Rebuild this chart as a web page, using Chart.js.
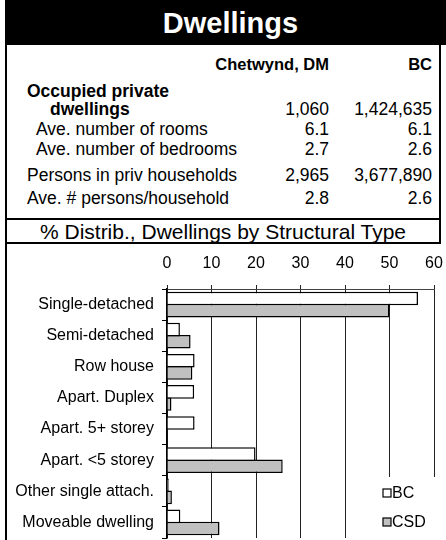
<!DOCTYPE html>
<html>
<head>
<meta charset="utf-8">
<script src="https://cdn.jsdelivr.net/npm/chart.js@4.4.1/dist/chart.umd.min.js"></script>
<style>
  html, body { margin: 0; padding: 0; background: #fff; }
  body { width: 446px; height: 540px; position: relative; overflow: hidden;
         font-family: "Liberation Sans", Arial, sans-serif; color: #000; }
  .abs { position: absolute; white-space: nowrap; line-height: 1; }
  #titleBar { position: absolute; left: 5px; top: 0; width: 441px; height: 45px; background: #000;
              color: #fff; font-weight: bold; font-size: 29px; text-align: center; line-height: 46px;
              padding-left: 10px; box-sizing: border-box; }
  .vline { position: absolute; top: 45px; width: 2px; background: #000; z-index: 2; }
  .hline { position: absolute; left: 5px; width: 436px; height: 2px; background: #000; }
  .t { font-size: 17.5px; }
  .h { font-size: 16.5px; }
  .b { font-weight: bold; }
  #section { position: absolute; left: 5px; width: 436px; top: 221px; text-align: center;
             font-size: 21px; line-height: 21px; }
  #chartBox { position: absolute; left: 7px; top: 244px; width: 439px; height: 296px; }
</style>
</head>
<body>
<div id="titleBar">Dwellings</div>
<div class="hline" style="top:218px"></div>
<div class="hline" style="top:242px"></div>

<div id="table"></div>
<div id="section">% Distrib., Dwellings by Structural Type</div>
<div id="chartBox"><canvas id="chart"></canvas></div>
<div class="vline" style="left:5px; bottom:0"></div>
<div class="vline" style="left:439px; height:199px"></div>

<script>
// --- table data ---
const colHeaders = ['Chetwynd, DM', 'BC'];
const rowLabels = ['Occupied private|dwellings', 'Ave. number of rooms', 'Ave. number of bedrooms',
                   'Persons in priv households', 'Ave. # persons/household'];
const localValues = ['1,060', '6.1', '2.7', '2,965', '2.8'];
const provValues = ['1,424,635', '6.1', '2.6', '3,677,890', '2.6'];

// --- chart data ---
const categories = ['Single-detached', 'Semi-detached', 'Row house', 'Apart. Duplex',
                    'Apart. 5+ storey', 'Apart. <5 storey', 'Other single attach.', 'Moveable dwelling'];
const bcValues = [56.4, 2.9, 6.2, 6.1, 6.2, 19.9, 0.4, 3.0];
const csdValues = [50.0, 5.3, 5.7, 1.0, 0.0, 26.0, 1.1, 11.8];
const xTicks = [0, 10, 20, 30, 40, 50, 60];

const FONT = 'Liberation Sans';

// build the html table (text stays real text)
const table = document.getElementById('table');
function put(text, x, y, cls, alignRight) {
    const d = document.createElement('div');
    d.className = 'abs ' + (cls || 't');
    d.textContent = text;
    if (alignRight) {
        d.style.right = (446 - x) + 'px';
    } else {
        d.style.left = x + 'px';
    }
    d.style.top = (y - 9) + 'px';
    table.appendChild(d);
}
const col1Right = 329, col2Right = 432;
put(colHeaders[0], col1Right, 65, 'h b', true);
put(colHeaders[1], col2Right, 65, 'h b', true);

const rowY = [110, 130, 150, 176, 199];
const rowX = [50, 36, 36, 27, 27];
rowLabels.forEach((lbl, i) => {
    if (i === 0) {
        const parts = lbl.split('|');
        put(parts[0], 27, 92, 't b');
        put(parts[1], rowX[i], rowY[i], 't b');
    } else {
        put(lbl, rowX[i], rowY[i]);
    }
    put(localValues[i], col1Right, rowY[i], 't', true);
    put(provValues[i], col2Right, rowY[i], 't', true);
});

// legend drawn inside the plot, bottom right, over a white patch
const cornerLegend = {
    id: 'cornerLegend',
    afterDraw(chart) {
        const ctx = chart.ctx;
        const area = chart.chartArea;
        const left = area.right - 56;
        const top = area.bottom - 61;
        ctx.save();
        ctx.fillStyle = '#fff';
        ctx.fillRect(left, top, chart.width - left, chart.height - top);
        ctx.font = '16px ' + FONT;
        ctx.textBaseline = 'middle';
        chart.data.datasets.forEach((ds, i) => {
            const cy = top + 16 + i * 29;
            ctx.fillStyle = ds.backgroundColor;
            ctx.fillRect(left + 5, cy - 4, 8, 8);
            ctx.strokeStyle = '#000';
            ctx.lineWidth = 1.2;
            ctx.strokeRect(left + 5, cy - 4, 8, 8);
            ctx.fillStyle = '#000';
            ctx.fillText(ds.label, left + 14, cy + 1);
        });
        ctx.restore();
    }
};

new Chart(document.getElementById('chart'), {
    type: 'bar',
    data: {
        labels: categories,
        datasets: [
            { label: 'BC', data: bcValues, backgroundColor: '#ffffff', borderColor: '#000', borderWidth: 1.5 },
            { label: 'CSD', data: csdValues, backgroundColor: '#c0c0c0', borderColor: '#000', borderWidth: 1.5 }
        ]
    },
    options: {
        indexAxis: 'y',
        responsive: true,
        maintainAspectRatio: false,
        animation: false,
        devicePixelRatio: 1,
        layout: { padding: { left: 0, right: 12, top: 0, bottom: 2 } },
        datasets: { bar: { categoryPercentage: 0.78, barPercentage: 1.12 } },
        plugins: { legend: { display: false }, tooltip: { enabled: false } },
        scales: {
            x: {
                position: 'top',
                min: 0, max: 60,
                afterBuildTicks: (scale) => { scale.ticks = xTicks.map(v => ({ value: v })); },
                afterFit: (scale) => {
                    scale.height = 45;
                    scale.paddingLeft = 0;
                    scale.paddingRight = 0;
                },
                ticks: { color: '#000', font: { size: 16, family: FONT }, padding: 12 },
                grid: { color: '#222', lineWidth: 1, tickLength: 4 },
                border: { color: '#444', width: 1 }
            },
            y: {
                afterFit: (scale) => {
                    scale.width = 160;
                    scale.paddingTop = 0;
                    scale.paddingBottom = 0;
                },
                ticks: { color: '#000', font: { size: 16, family: FONT }, padding: 8 },
                grid: { drawOnChartArea: false, offset: true, tickLength: 5, color: '#000' },
                border: { color: '#000', width: 1.5 }
            }
        }
    },
    plugins: [cornerLegend]
});
</script>
</body>
</html>
